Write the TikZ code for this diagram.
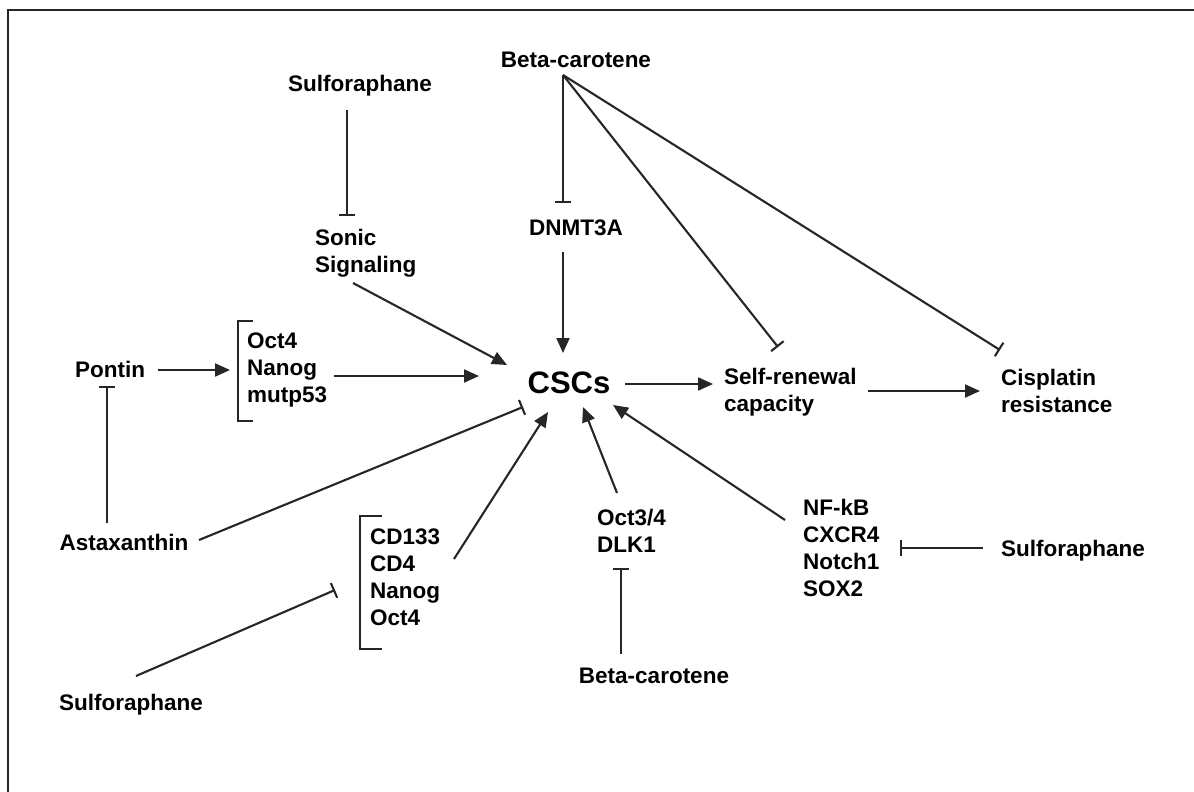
\documentclass[tikz,border=0pt]{standalone}
\usepackage{fontspec}
\setmainfont{Liberation Sans}
\usetikzlibrary{arrows.meta}

\begin{document}
\begin{tikzpicture}[x=1pt,y=-1pt,line width=2.1pt,
    every node/.style={font=\bfseries\fontsize{22.5}{27}\selectfont,inner sep=0pt,align=left},
    act/.style={draw=black!85,-{Triangle[length=15pt,width=13pt]}},
    inh/.style={draw=black!85,-{Bar[width=16pt]}},
    brk/.style={draw=black!85},
    frame/.style={draw=black!85,line width=2.8pt}]
      \useasboundingbox (0,0) rectangle (1194,792);
      \draw[frame] (1194,10) -- (8,10) -- (8,792);

      \node[anchor=base] (sulfa) at (360,92) {Sulforaphane};
      \node[anchor=base] (betaa) at (576,67) {Beta-carotene};
      \node[anchor=north west] (sonic) at (314,228.5) {Sonic\\Signaling};
      \node[anchor=base] (dnmt) at (576,235) {DNMT3A};
      \node[anchor=base,font=\bfseries\fontsize{31}{37}\selectfont] (cscs) at (569,393) {CSCs};
      \node[anchor=north west] (self) at (723,367.5) {Self-renewal\\capacity};
      \node[anchor=north west] (cis) at (1000,368.5) {Cisplatin\\resistance};
      \node[anchor=base] (pontin) at (110,377) {Pontin};
      \node[anchor=north west] (grpa) at (246,331.5) {Oct4\\Nanog\\mutp53};
      \node[anchor=base] (astax) at (124,550) {Astaxanthin};
      \node[anchor=north west] (grpb) at (369,527.5) {CD133\\CD4\\Nanog\\Oct4};
      \node[anchor=base] (sulfb) at (131,710) {Sulforaphane};
      \node[anchor=north west] (oct) at (596,508.5) {Oct3/4\\DLK1};
      \node[anchor=base] (betab) at (654,683) {Beta-carotene};
      \node[anchor=north west] (nfkb) at (802,498.5) {NF-kB\\CXCR4\\Notch1\\SOX2};
      \node[anchor=base] (sulfc) at (1073,556) {Sulforaphane};

      \coordinate (hub) at ([shift={(-13pt,-8pt)}]betaa.base);

      \draw[brk] ([shift={(7pt,10.5pt)}]grpa.north west) -| ([shift={(-8pt,-89.5pt)}]grpa.north west) -- ++(15pt,0pt);
      \draw[brk] ([shift={(13pt,11.5pt)}]grpb.north west) -| ([shift={(-9pt,-121.5pt)}]grpb.north west) -- ++(22pt,0pt);

      \path
      ([shift={(-13pt,-18pt)}]sulfa.base) edge[inh] ([shift={(33pt,12.5pt)}]sonic.north west)
      (hub) edge[inh] ([shift={(-13pt,32pt)}]dnmt.base)
      (hub) edge[inh] ([shift={(55pt,20.5pt)}]self.north west)
      (hub) edge[inh] ([shift={(0pt,18.5pt)}]cis.north west)

      ([shift={(-13pt,-17pt)}]dnmt.base) edge[act] ([shift={(-6pt,40pt)}]cscs.base)
      ([shift={(39pt,-54.5pt)}]sonic.north west) edge[act] ([shift={(-62pt,28pt)}]cscs.base)
      ([shift={(56pt,9pt)}]cscs.base) edge[act] ([shift={(-10pt,-16.5pt)}]self.north west)
      ([shift={(145pt,-23.5pt)}]self.north west) edge[act] ([shift={(-20pt,-22.5pt)}]cis.north west)

      ([shift={(48pt,7pt)}]pontin.base) edge[act] ([shift={(-16pt,-38.5pt)}]grpa.north west)
      ([shift={(88pt,-44.5pt)}]grpa.north west) edge[act] ([shift={(-90pt,17pt)}]cscs.base)
      ([shift={(-17pt,27pt)}]astax.base) edge[inh] ([shift={(-3pt,-9pt)}]pontin.base)
      ([shift={(75pt,10pt)}]astax.base) edge[inh] ([shift={(-46pt,-14pt)}]cscs.base)

      ([shift={(85pt,-31.5pt)}]grpb.north west) edge[act] ([shift={(-21pt,-19pt)}]cscs.base)
      ([shift={(5pt,34pt)}]sulfb.base) edge[inh] ([shift={(-34pt,-62.5pt)}]grpb.north west)
      ([shift={(21pt,15.5pt)}]oct.north west) edge[act] ([shift={(14pt,-14pt)}]cscs.base)
      ([shift={(-33pt,29pt)}]betab.base) edge[inh] ([shift={(25pt,-59.5pt)}]oct.north west)

      ([shift={(-17pt,-21.5pt)}]nfkb.north west) edge[act] ([shift={(44pt,-12pt)}]cscs.base)
      ([shift={(-90pt,8pt)}]sulfc.base) edge[inh] ([shift={(98pt,-49.5pt)}]nfkb.north west)
      ;
    \end{tikzpicture}
\end{document}
